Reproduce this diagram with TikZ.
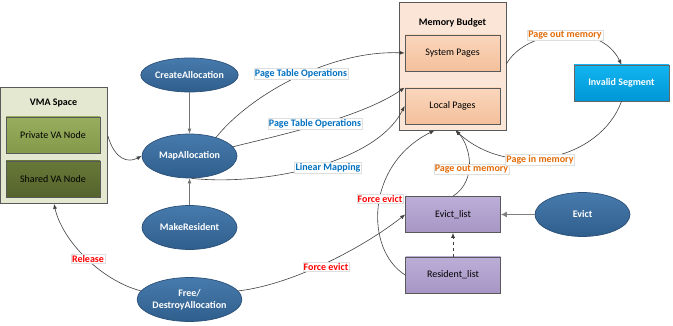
\documentclass[tikz,border=0pt]{standalone}
\usepackage{fontspec}
\setmainfont{Carlito}
\usetikzlibrary{positioning,arrows.meta,shapes.geometric}

\definecolor{vmafill}{HTML}{E4E8D0}
\definecolor{privtop}{HTML}{98AE5E}
\definecolor{privbot}{HTML}{84994A}
\definecolor{shartop}{HTML}{687839}
\definecolor{sharbot}{HTML}{55642B}
\definecolor{mbfill}{HTML}{FBE5D6}
\definecolor{pgtop}{HTML}{FAD6BC}
\definecolor{pgbot}{HTML}{F4C09C}
\definecolor{segtop}{HTML}{12B5F1}
\definecolor{segbot}{HTML}{0096D6}
\definecolor{lsttop}{HTML}{BBAED7}
\definecolor{lstbot}{HTML}{A796C5}
\definecolor{optop}{HTML}{477BAD}
\definecolor{opbot}{HTML}{2F5E8C}
\definecolor{opline}{HTML}{2B5078}
\definecolor{lblue}{HTML}{0070C0}
\definecolor{lorange}{HTML}{E36C09}
\definecolor{lred}{HTML}{FF0000}

\begin{document}
\begin{tikzpicture}[x=1pt, y=-1pt, font=\fontsize{10}{12}\selectfont,
                    grp/.style={draw=gray!70!black, line width=0.8pt, inner sep=0pt},
                    box/.style={draw=black!65, line width=0.7pt, inner sep=0pt,
                                minimum width=95pt, minimum height=36pt},
                    op/.style={ellipse, draw=opline, line width=0.7pt, top color=optop,
                               bottom color=opbot, text=white, inner sep=0pt, align=center,
                               font=\fontsize{10}{12}\selectfont\bfseries,
                               minimum width=95pt, minimum height=44pt},
                    ln/.style={draw=black!75, line width=0.6pt, -{Latex[length=5pt,width=4pt]}},
                    vln/.style={ln, draw=black!55, line width=0.9pt},
                    lbl/.style={fill=white, draw=gray!25, line width=0.3pt, inner sep=1pt,
                                font=\fontsize{10}{12}\selectfont\bfseries}]
  \useasboundingbox (0,0) rectangle (673,326);

  % VMA space
  \node[grp, fill=vmafill, minimum width=107pt, minimum height=116pt] (vma) at (54,145.5) {};
  \node[font=\fontsize{10}{12}\selectfont\bfseries] (vmat) at (53.5,103) {VMA Space};
  \node[box, top color=privtop, bottom color=privbot, minimum width=94pt] (priv) at (53,135) {Private VA Node};
  \node[box, top color=shartop, bottom color=sharbot, minimum width=94pt] (shar) at (53,179) {Shared VA Node};

  % memory budget
  \node[grp, fill=mbfill, minimum width=107pt, minimum height=128pt] (mb) at (452.5,66) {};
  \node[font=\fontsize{10}{12}\selectfont\bfseries] (mbt) at (452.5,23) {Memory Budget};
  \node[box, top color=pgtop, bottom color=pgbot] (sys) at (452.5,53) {System Pages};
  \node[box, top color=pgtop, bottom color=pgbot] (loc) at (452.5,106) {Local Pages};

  \node[box, draw=black!60, top color=segtop, bottom color=segbot, text=white,
        font=\fontsize{10}{12}\selectfont\bfseries] (seg) at (621.5,83) {Invalid Segment};

  % eviction lists
  \node[box, top color=lsttop, bottom color=lstbot] (evl) at (453,214.5) {Evict\_list};
  \node[box, top color=lsttop, bottom color=lstbot] (res) at (453,275) {Resident\_list};

  % operations
  \node[op, minimum height=34pt] (create) at (189.5,75) {CreateAllocation};
  \node[op] (map) at (189.5,156) {MapAllocation};
  \node[op] (mkres) at (189.5,227.5) {MakeResident};
  \node[op] (free) at (189.5,299.5) {Free/\\DestroyAllocation};
  \node[op] (evict) at (582.5,214.5) {Evict};

  % connectors
  \draw[vln] (create) -- (map);
  \draw[vln] (mkres) -- (map);
  \draw[ln] (vma.east |- 0,136) .. controls (115,160) and (128,163) .. (map.west);
  \draw[ln] (map.35) .. controls (250,95) and (330,50) .. (sys.west);
  \draw[ln] (map.12) .. controls (280,135) and (360,118) .. (loc.north west);
  \draw[ln] (map.-85) .. controls (260,186) and (375,165) .. (loc.west);
  \draw[ln] (free.170) .. controls (100,280) and (62,240) .. (vma.south);
  \draw[ln] (free.10) .. controls (290,285) and (360,250) .. (evl.west);
  \draw[ln] (res.west) .. controls (365,250) and (365,165) .. ([xshift=-18pt]mb.south);
  \draw[ln] (evl.north) .. controls (478,180) and (470,145) .. ([xshift=3pt]mb.south);
  \draw[ln] (seg.south) .. controls (600,160) and (510,180) .. ([xshift=3pt]mb.south);
  \draw[ln] (mb.east |- 0,64) .. controls (525,30) and (600,20) .. (seg.north);
  \draw[ln, draw=black!50, line width=1.6pt, -{Latex[length=6pt,width=6pt]}] (evict) -- (evl);
  \draw[ln, dashed] (res) -- (evl);

  % labels
  \node[lbl, text=lblue] (pto1) at (301,74) {Page Table Operations};
  \node[lbl, text=lblue] (pto2) at (315,124) {Page Table Operations};
  \node[lbl, text=lblue] (lmap) at (328,168) {Linear Mapping};
  \node[lbl, text=lred] (rel) at (88,259) {Release};
  \node[lbl, text=lred] (fe1) at (326,267) {Force evict};
  \node[lbl, text=lred] (fe2) at (380,199) {Force evict};
  \node[lbl, text=lorange] (pom1) at (565,35) {Page out memory};
  \node[lbl, text=lorange] (pom2) at (471.5,169) {Page out memory};
  \node[lbl, text=lorange] (pim) at (540,160) {Page in memory};
\end{tikzpicture}
\end{document}
